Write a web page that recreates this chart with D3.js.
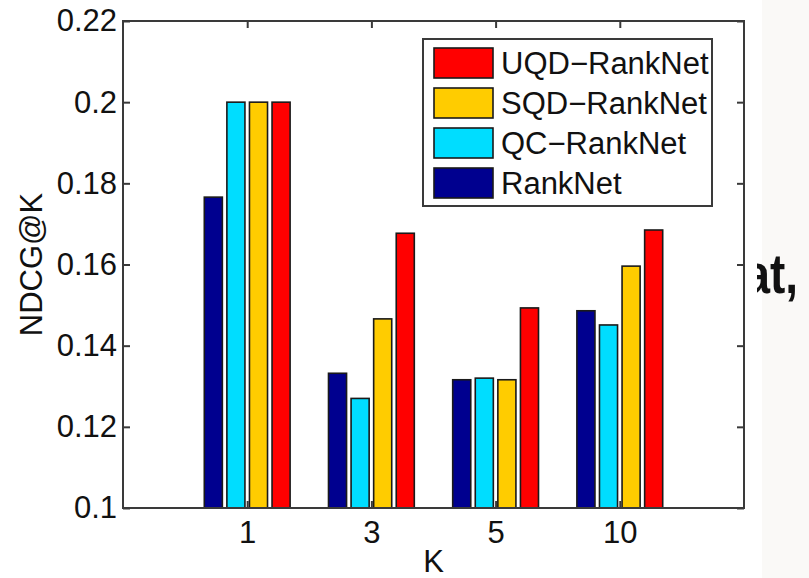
<!DOCTYPE html>
<html>
<head>
<meta charset="utf-8">
<script src="https://cdn.jsdelivr.net/npm/d3@7"></script>
<style>
  html, body { margin: 0; padding: 0; background: #fff; }
  svg { display: block; font-family: "Liberation Sans", Arial, sans-serif; }
</style>
</head>
<body>
<div id="chart"></div>
<script>
// Valeurs
const categories = ["1", "3", "5", "10"];
const seriesNames = ["RankNet", "QC−RankNet", "SQD−RankNet", "UQD−RankNet"];
const seriesColors = ["#00008f", "#00ddff", "#ffcc00", "#ff0000"];
const rankNet = [0.1766, 0.1332, 0.1316, 0.1486];
const qcRankNet = [0.2, 0.1270, 0.1320, 0.1451];
const sqdRankNet = [0.2, 0.1466, 0.1316, 0.1596];
const uqdRankNet = [0.2, 0.1677, 0.1493, 0.1685];
const yTicks = [0.1, 0.12, 0.14, 0.16, 0.18, 0.2, 0.22];

const series = [rankNet, qcRankNet, sqdRankNet, uqdRankNet];

const width = 809, height = 578;
const plotLeft = 123, plotRight = 744, plotTop = 21, plotBottom = 508;
const axisColor = "#3a3a3a";

const svg = d3.select("#chart").append("svg")
  .attr("width", width).attr("height", height);

// fond de la diapositive à droite + texte coupé
svg.append("rect").attr("x", 762).attr("y", 0).attr("width", width - 762).attr("height", height)
  .attr("fill", "#faf9f7");
svg.append("defs").append("clipPath").attr("id", "cut")
  .append("rect").attr("x", 757).attr("y", 0).attr("width", 60).attr("height", height);
svg.append("g").attr("clip-path", "url(#cut)")
  .append("text")
  .attr("transform", "translate(798,293) scale(0.82,1)")
  .attr("text-anchor", "end")
  .attr("font-family", "'Liberation Sans', Arial, sans-serif")
  .attr("font-weight", "bold")
  .attr("font-size", 56)
  .attr("fill", "#111")
  .text("at,");

const x = d3.scaleLinear().domain([0, categories.length + 1]).range([plotLeft, plotRight]);
const y = d3.scaleLinear().domain([0.1, 0.22]).range([plotBottom, plotTop]);

// géométrie des barres groupées (façon MATLAB)
const n = series.length;
const groupWidth = Math.min(0.8, n / (n + 1.5));
const step = groupWidth / n;
const barW = x(step * 0.8) - x(0);

series.forEach((vals, si) => {
  const off = (si - (n - 1) / 2) * step;
  svg.append("g").selectAll("rect")
    .data(vals)
    .enter()
    .append("rect")
    .attr("x", (d, i) => x(i + 1 + off) - barW / 2)
    .attr("y", d => y(d))
    .attr("width", barW)
    .attr("height", d => y(0.1) - y(d))
    .attr("fill", seriesColors[si])
    .attr("stroke", "#1a1a1a")
    .attr("stroke-width", 1.6);
});

// axes (boîte avec graduations vers l'intérieur)
const xTickVals = categories.map((c, i) => i + 1);
const fmt = d => categories[d - 1];

function styleAxis(g) {
  g.selectAll(".domain").remove();
  g.selectAll(".tick line").attr("stroke", axisColor).attr("stroke-width", 2);
  g.selectAll("text").attr("fill", "#111").attr("font-size", 31)
    .attr("font-family", "'Liberation Sans', Arial, sans-serif");
}

svg.append("g").attr("transform", `translate(0,${plotBottom})`)
  .call(d3.axisBottom(x).tickValues(xTickVals).tickFormat(fmt).tickSize(-7).tickPadding(13))
  .call(styleAxis);
svg.append("g").attr("transform", `translate(0,${plotTop})`)
  .call(d3.axisTop(x).tickValues(xTickVals).tickFormat("").tickSize(-7))
  .call(styleAxis);
svg.append("g").attr("transform", `translate(${plotLeft},0)`)
  .call(d3.axisLeft(y).tickValues(yTicks).tickFormat(d => String(+d.toFixed(2))).tickSize(-7).tickPadding(6))
  .call(styleAxis);
svg.append("g").attr("transform", `translate(${plotRight},0)`)
  .call(d3.axisRight(y).tickValues(yTicks).tickFormat("").tickSize(-7))
  .call(styleAxis);

svg.append("rect")
  .attr("x", plotLeft).attr("y", plotTop).attr("width", plotRight - plotLeft).attr("height", plotBottom - plotTop)
  .attr("fill", "none").attr("stroke", axisColor).attr("stroke-width", 2);

// titres des axes
svg.append("text")
  .attr("x", (plotLeft + plotRight) / 2).attr("y", 572)
  .attr("text-anchor", "middle").attr("font-size", 31).attr("fill", "#111")
  .text("K");
svg.append("text")
  .attr("transform", `translate(42,${(plotTop + plotBottom) / 2}) rotate(-90)`)
  .attr("text-anchor", "middle").attr("font-size", 31).attr("fill", "#111")
  .text("NDCG@K");

// légende (ordre inversé)
const legend = svg.append("g");
legend.append("rect")
  .attr("x", 423).attr("y", 39).attr("width", 289).attr("height", 167)
  .attr("fill", "#fff").attr("stroke", axisColor).attr("stroke-width", 2);
const order = d3.range(n).reverse();
order.forEach((si, r) => {
  const cy = 63 + r * 40;
  legend.append("rect")
    .attr("x", 434).attr("y", cy - 15).attr("width", 59).attr("height", 30)
    .attr("fill", seriesColors[si]).attr("stroke", "#1a1a1a").attr("stroke-width", 1.6);
  legend.append("text")
    .attr("x", 501).attr("y", cy + 11)
    .attr("font-size", 31).attr("fill", "#111")
    .text(seriesNames[si]);
});
</script>
</body>
</html>
